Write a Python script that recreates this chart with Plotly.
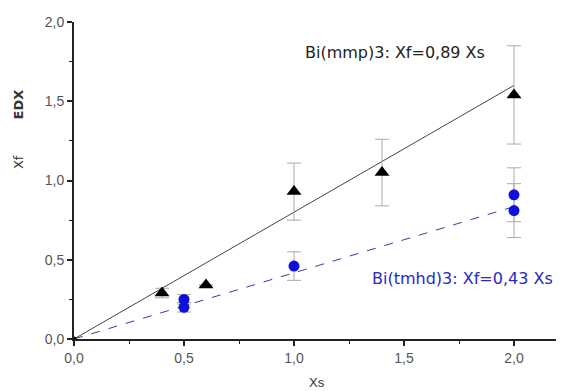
import plotly.graph_objects as go

# data
mmp_x = [0.4, 0.6, 1.0, 1.4, 2.0]
mmp_y = [0.29, 0.34, 0.93, 1.05, 1.54]
mmp_err = [0.03, 0.0, 0.18, 0.21, 0.31]

tmhd_x = [0.5, 0.5, 1.0, 2.0, 2.0]
tmhd_y = [0.25, 0.20, 0.46, 0.91, 0.81]
tmhd_err = [0.03, 0.03, 0.09, 0.17, 0.17]

fit_x = [0.0, 2.0]
fit_mmp = [0.0, 1.60]
fit_tmhd = [0.0, 0.835]

origin_x = [0.0]
origin_y = [0.0]

# page layout (browser body has an 8px margin)
OFF = 8
W, H = 564 - OFF, 391 - OFF
ml, mr, mt, mb = 74 - OFF, 6, 20 - OFF, 52
pw, ph = W - ml - mr, H - mt - mb


def px_to_paper(x, y):
    return (x - OFF - ml) / pw, (H - mb - (y - OFF)) / ph


fig = go.Figure()
fig.add_trace(go.Scatter(x=fit_x, y=fit_mmp, mode="lines",
                         line=dict(color="#444444", width=1), showlegend=False))
fig.add_trace(go.Scatter(x=fit_x, y=fit_tmhd, mode="lines",
                         line=dict(color="#3a3a9a", width=1, dash="dash"), showlegend=False))
fig.add_trace(go.Scatter(x=mmp_x, y=mmp_y, mode="markers",
                         marker=dict(symbol="triangle-up", size=13, color="black"),
                         error_y=dict(type="data", array=mmp_err, color="#aaaaaa", thickness=1, width=7),
                         showlegend=False))
fig.add_trace(go.Scatter(x=tmhd_x, y=tmhd_y, mode="markers",
                         marker=dict(symbol="circle", size=11, color="#1010dd"),
                         error_y=dict(type="data", array=tmhd_err, color="#aaaaaa", thickness=1, width=7),
                         showlegend=False))
fig.add_trace(go.Scatter(x=origin_x, y=origin_y, mode="markers",
                         marker=dict(symbol="circle", size=5, color="black"), showlegend=False))

fig.add_annotation(x=1.04, y=1.81, xref="x", yref="y", xanchor="left", yanchor="middle",
                   text="Bi(mmp)3: Xf=0,89 Xs", showarrow=False,
                   font=dict(family="DejaVu Sans", size=16, color="#222222"))
fig.add_annotation(x=1.345, y=0.38, xref="x", yref="y", xanchor="left", yanchor="middle",
                   text="Bi(tmhd)3: Xf=0,43 Xs", showarrow=False,
                   font=dict(family="DejaVu Sans", size=16, color="#2828c8"))

for txt, (pxl, pyl), ang, fam in [("Xf", (18, 161), -90, "DejaVu Sans"),
                                  ("<b>EDX</b>", (18, 103), -90, "DejaVu Sans"),
                                  ("Xs", (317, 383), 0, "Liberation Sans")]:
    ax, ay = px_to_paper(pxl, pyl)
    fig.add_annotation(x=ax, y=ay, xref="paper", yref="paper", text=txt, showarrow=False,
                       textangle=ang, xanchor="center", yanchor="middle",
                       font=dict(family=fam, size=13, color="#333333"))

axis_common = dict(showgrid=False, zeroline=False, showline=True, linecolor="#222222", linewidth=2,
                   ticks="outside", ticklen=5, tickwidth=1.5, tickcolor="#222222",
                   tickfont=dict(family="Liberation Sans", size=14, color="#555555"),
                   tickformat=".1f", dtick=0.5, ticklabelstandoff=0,
                   minor=dict(ticks="outside", ticklen=3, tickwidth=1, tickcolor="#222222", dtick=0.25))

fig.update_xaxes(range=[0, 2.2], tick0=0, **axis_common)
fig.update_yaxes(range=[0, 2.0], tick0=0, **axis_common)

fig.update_layout(width=W, height=H, margin=dict(l=ml, r=mr, t=mt, b=mb),
                  plot_bgcolor="white", paper_bgcolor="white", separators=",.",
                  showlegend=False)

fig.write_html("out.html")
